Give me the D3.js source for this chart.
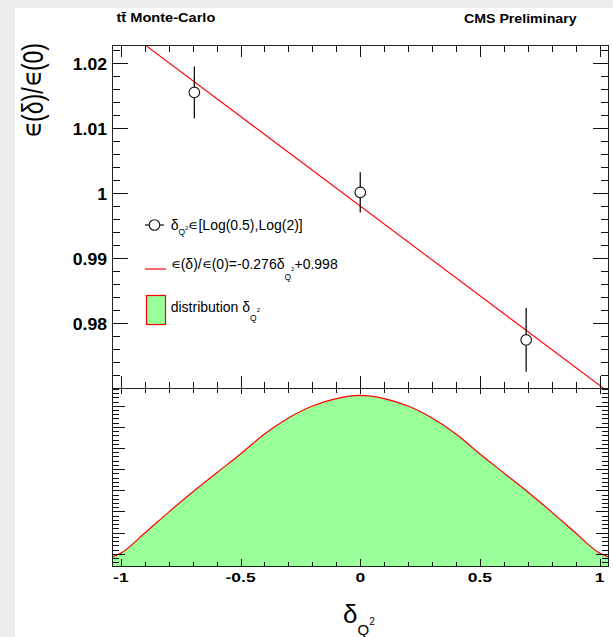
<!DOCTYPE html>
<html>
<head>
<meta charset="utf-8">
<script src="https://cdn.jsdelivr.net/npm/d3@7"></script>
<style>
  html, body { margin: 0; padding: 0; background: #ececec; }
  svg { display: block; }
  text { font-family: "Liberation Sans", Arial, Helvetica, sans-serif; fill: #000; }
</style>
</head>
<body>
<svg id="chart" width="613" height="637"></svg>
<script>
// Relative efficiency measured at three shifts of delta_Q2
const deltaQ2 = [-0.693, 0, 0.693];
const effRatio = [1.0155, 1.0001, 0.9774];
const effError = [0.0040, 0.0031, 0.0049];

// Linear fit of the efficiency ratio
const fitSlope = -0.0276;
const fitIntercept = 0.998;

// Shape of the delta_Q2 distribution (arbitrary units)
const distX = [-1.037, -1.0, -0.9, -0.8, -0.7, -0.6, -0.5, -0.4, -0.3, -0.2, -0.1, 0,
               0.1, 0.2, 0.3, 0.4, 0.5, 0.6, 0.7, 0.8, 0.9, 1.0, 1.037];
const distY = [0.85, 1.03, 1.98, 2.97, 3.92, 4.82, 5.72, 6.66, 7.42, 7.99, 8.34, 8.49,
               8.34, 7.99, 7.42, 6.66, 5.72, 4.82, 3.92, 2.97, 1.98, 1.03, 0.85];

// Axis ticks and labels
const xMajorTicks = [-1, -0.5, 0, 0.5, 1];
const xTickLabels = ["-1", "-0.5", "0", "0.5", "1"];
const yMajorTicks = [0.98, 0.99, 1, 1.01, 1.02];
const yTickLabels = ["0.98", "0.99", "1", "1.01", "1.02"];
const distMajorTicks = [1, 2, 3, 4, 5, 6, 7, 8];

const svg = d3.select("#chart");
const EPS = "\u220a";   // small element-of sign used for the efficiency symbol

// canvas
svg.append("rect").attr("x", 15).attr("y", 8).attr("width", 598).attr("height", 629).attr("fill", "#ffffff");

const left = 112, right = 608.5;
const topY0 = 45, topY1 = 388;      // upper pad frame
const botY0 = 388, botY1 = 566;     // lower pad frame

const x = d3.scaleLinear().domain([-1.037, 1.037]).range([left, right]);
const y = d3.scaleLinear().domain([0.97, 1.0228]).range([topY1, topY0]);
const yd = d3.scaleLinear().domain([0.42, 8.84]).range([botY1, botY0]);

const xMinor = d3.range(-10, 11).map(k => k / 10).filter(v => !xMajorTicks.includes(v));
const yMinor = d3.range(486, 512).map(k => +(k * 0.002).toFixed(3))
  .filter(v => v >= 0.97 && v <= 1.0228 && !yMajorTicks.some(t => Math.abs(t - v) < 1e-9));
const dMinor = d3.range(3, 45).map(k => +(k * 0.2).toFixed(1))
  .filter(v => v >= 0.42 && v <= 8.84 && !distMajorTicks.some(t => Math.abs(t - v) < 1e-9));

// helper: draw an axis with only ticks (no domain path)
function ticks(gen, scale, values, size, tx, ty) {
  const g = svg.append("g")
    .attr("transform", `translate(${tx},${ty})`)
    .call(gen(scale).tickValues(values).tickSize(size).tickFormat(""));
  g.select(".domain").remove();
  g.selectAll("line").attr("stroke", "#111").attr("stroke-width", 1).attr("shape-rendering", "crispEdges");
  return g;
}

// ---------- lower pad: distribution ----------
const area = d3.area()
  .x((d, i) => x(distX[i]))
  .y0(botY1)
  .y1((d, i) => yd(distY[i]))
  .curve(d3.curveMonotoneX);
const line = d3.line()
  .x((d, i) => x(distX[i]))
  .y((d, i) => yd(distY[i]))
  .curve(d3.curveMonotoneX);

svg.append("clipPath").attr("id", "clipBot")
  .append("rect").attr("x", left).attr("y", botY0).attr("width", right - left).attr("height", botY1 - botY0);
svg.append("path").datum(distY).attr("d", area).attr("fill", "#99ff99").attr("clip-path", "url(#clipBot)");
svg.append("path").datum(distY).attr("d", line).attr("fill", "none").attr("stroke", "#ff0000")
  .attr("stroke-width", 1.2).attr("clip-path", "url(#clipBot)");

// lower pad ticks
ticks(d3.axisRight, yd, distMajorTicks, 13, left, 0);
ticks(d3.axisRight, yd, dMinor, 7, left, 0);
ticks(d3.axisLeft, yd, distMajorTicks, 13, right, 0);
ticks(d3.axisLeft, yd, dMinor, 7, right, 0);
ticks(d3.axisTop, x, xMajorTicks, 7, 0, botY1);
ticks(d3.axisTop, x, xMinor, 4, 0, botY1);
ticks(d3.axisBottom, x, xMajorTicks, 6, 0, botY0);
ticks(d3.axisBottom, x, xMinor, 5, 0, botY0);

// ---------- upper pad: efficiency ratio ----------
svg.append("clipPath").attr("id", "clipTop")
  .append("rect").attr("x", left).attr("y", topY0).attr("width", right - left).attr("height", topY1 - topY0);

const fitLine = d3.line().x(d => x(d)).y(d => y(fitSlope * d + fitIntercept));
svg.append("path").datum(x.domain()).attr("d", fitLine)
  .attr("fill", "none").attr("stroke", "#ff0000").attr("stroke-width", 1.1).attr("clip-path", "url(#clipTop)");

ticks(d3.axisRight, y, yMajorTicks, 16, left, 0);
ticks(d3.axisRight, y, yMinor, 8, left, 0);
ticks(d3.axisLeft, y, yMajorTicks, 16, right, 0);
ticks(d3.axisLeft, y, yMinor, 8, right, 0);
ticks(d3.axisBottom, x, xMajorTicks, 12, 0, topY0);
ticks(d3.axisBottom, x, xMinor, 7, 0, topY0);
ticks(d3.axisTop, x, xMajorTicks, 12, 0, topY1);
ticks(d3.axisTop, x, xMinor, 6, 0, topY1);

// data points with error bars
const R = 5.3;
const pts = svg.append("g");
deltaQ2.forEach((dx, i) => {
  const cx = x(dx), cy = y(effRatio[i]);
  pts.append("line").attr("x1", cx).attr("x2", cx)
    .attr("y1", y(effRatio[i] + effError[i])).attr("y2", cy - R)
    .attr("stroke", "#111").attr("stroke-width", 1.3);
  pts.append("line").attr("x1", cx).attr("x2", cx)
    .attr("y1", cy + R).attr("y2", y(effRatio[i] - effError[i]))
    .attr("stroke", "#111").attr("stroke-width", 1.3);
  pts.append("circle").attr("cx", cx).attr("cy", cy).attr("r", R)
    .attr("fill", "#fff").attr("stroke", "#111").attr("stroke-width", 1.1);
});

// frames
[[topY0, topY1], [botY0, botY1]].forEach(([a, b]) => {
  svg.append("rect").attr("x", left).attr("y", a).attr("width", right - left).attr("height", b - a)
    .attr("fill", "none").attr("stroke", "#222").attr("stroke-width", 1).attr("shape-rendering", "crispEdges");
});

// ---------- text ----------
function stretched(txt, tx, ty, sx, size, weight, anchor) {
  return svg.append("text")
    .attr("transform", `translate(${tx},${ty}) scale(${sx},1)`)
    .attr("text-anchor", anchor)
    .attr("font-size", size)
    .attr("font-weight", weight)
    .text(txt);
}

// y tick labels (upper pad)
yMajorTicks.forEach((v, i) => stretched(yTickLabels[i], 107, y(v) + 7.2, 1.1, 16, "bold", "end"));
// x tick labels (lower pad)
xMajorTicks.forEach((v, i) => stretched(xTickLabels[i], x(v), 581.7, 1.4, 12.5, "bold", "middle"));

// headers
stretched("tt\u0304 Monte-Carlo", 116.5, 21.7, 1.08, 13.5, "bold", "start");
stretched("CMS Preliminary", 464, 22.5, 1.05, 13.5, "bold", "start");

// y axis title
svg.append("text")
  .attr("transform", "translate(43,43) scale(1.3,1) rotate(-90)")
  .attr("text-anchor", "end")
  .attr("font-size", 23)
  .text(EPS + "(\u03b4)/" + EPS + "(0)");

// x axis title
const xt = svg.append("text").attr("x", 343).attr("y", 623);
xt.append("tspan").attr("font-size", 26).text("\u03b4");
xt.append("tspan").attr("font-size", 15).attr("dy", 12).text("Q");
xt.append("tspan").attr("font-size", 10).attr("dy", -10).text("2");

// legend
function richText(x0, y0, parts) {
  const t = svg.append("text").attr("x", x0).attr("y", y0).attr("font-size", 14);
  parts.forEach(p => {
    const s = t.append("tspan").attr("font-size", p.size || 14).text(p.text);
    if (p.dy) s.attr("dy", p.dy);
  });
  return t;
}

// entry 1: points
svg.append("line").attr("x1", 145).attr("x2", 164).attr("y1", 225).attr("y2", 225)
  .attr("stroke", "#111").attr("stroke-width", 1.2);
svg.append("circle").attr("cx", 154.5).attr("cy", 225).attr("r", R)
  .attr("fill", "#fff").attr("stroke", "#111").attr("stroke-width", 1.1);
richText(170.7, 229.5, [
  { text: "\u03b4" },
  { text: "Q", size: 8.5, dy: 5.5 },
  { text: "2", size: 6, dy: -5.5 },
  { text: EPS + "[Log(0.5),Log(2)]" }
]);

// entry 2: fit
svg.append("line").attr("x1", 145).attr("x2", 166).attr("y1", 269).attr("y2", 269)
  .attr("stroke", "#ff0000").attr("stroke-width", 1.2);
richText(170.7, 269.3, [
  { text: EPS + "(\u03b4)/" + EPS + "(0)=-0.276\u03b4" },
  { text: "Q", size: 8.5, dy: 10.5 },
  { text: "2", size: 6, dy: -8.5 },
  { text: "+0.998", dy: -2 }
]);

// entry 3: distribution
svg.append("rect").attr("x", 146.5).attr("y", 295.5).attr("width", 19).attr("height", 29)
  .attr("fill", "#99ff99").attr("stroke", "#ff0000").attr("stroke-width", 1.2);
richText(170.7, 311.7, [
  { text: "distribution \u03b4" },
  { text: "Q", size: 8.5, dy: 9 },
  { text: "2", size: 6, dy: -9 }
]);
</script>
</body>
</html>
